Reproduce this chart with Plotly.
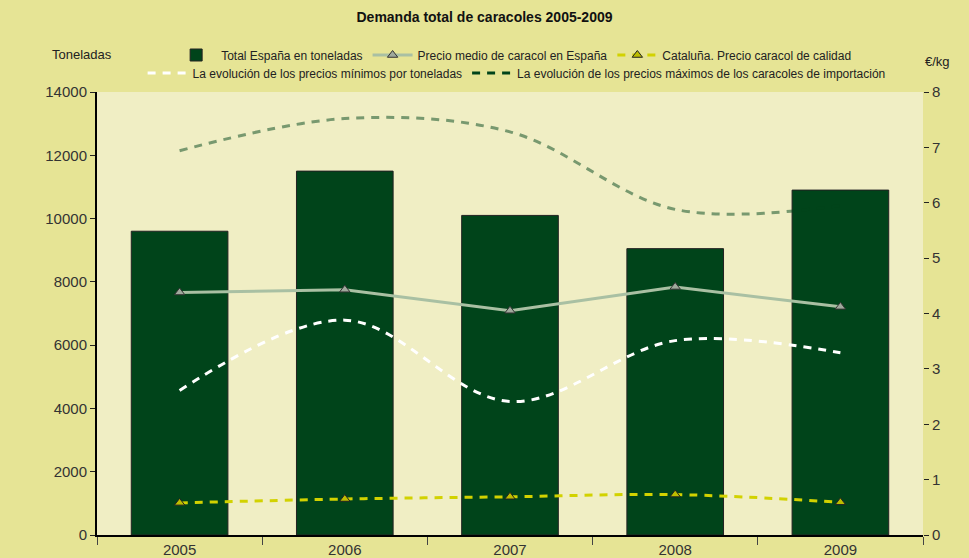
import plotly.graph_objects as go

years = ["2005", "2006", "2007", "2008", "2009"]
total_espana = [9600, 11500, 10100, 9050, 10900]
precio_medio = [4.38, 4.43, 4.05, 4.48, 4.12]
cataluna = [0.58, 0.65, 0.69, 0.73, 0.59]
precios_minimos = [2.61, 3.88, 2.41, 3.51, 3.29]
precios_maximos = [6.94, 7.52, 7.28, 5.88, 5.95]

title = "Demanda total de caracoles 2005-2009"
y_left_title = "Toneladas"
y_right_title = "€/kg"

FONT = "Liberation Sans, Arial, sans-serif"
DARK_GREEN = "#00441a"

fig = go.Figure()

fig.add_trace(go.Bar(
    x=years, y=total_espana, name="Total España en toneladas",
    marker=dict(color=DARK_GREEN, line=dict(color="#222", width=1)),
    width=0.585, legend="legend", yaxis="y",
))
fig.add_trace(go.Scatter(
    x=years, y=precio_medio, name="Precio medio de caracol en España",
    mode="lines+markers", yaxis="y2", legend="legend",
    line=dict(color="#a9c0a3", width=3),
    marker=dict(symbol="triangle-up", size=9, color="#9fa99c",
                line=dict(color="#333", width=1)),
))
fig.add_trace(go.Scatter(
    x=years, y=cataluna, name="Cataluña. Precio caracol de calidad",
    mode="lines+markers", yaxis="y2", legend="legend",
    line=dict(color="#d2d200", width=3, dash="8px,7px", shape="spline"),
    marker=dict(symbol="triangle-up", size=9, color="#bdbd00",
                line=dict(color="#222", width=1)),
))
fig.add_trace(go.Scatter(
    x=years, y=precios_minimos,
    name="La evolución de los precios mínimos por toneladas",
    mode="lines", yaxis="y2", legend="legend2",
    line=dict(color="white", width=3, dash="8px,7px", shape="spline"),
))
fig.add_trace(go.Scatter(
    x=years, y=precios_maximos,
    name="La evolución de los precios máximos de los caracoles de importación",
    mode="lines", yaxis="y2", showlegend=False,
    line=dict(color="rgba(0,68,26,0.5)", width=3, dash="8px,7px", shape="spline"),
))
# legend-only entry for the maximum prices line (legend swatch is solid dark green)
fig.add_trace(go.Scatter(
    x=[None], y=[None],
    name="La evolución de los precios máximos de los caracoles de importación",
    mode="lines", yaxis="y2", legend="legend2",
    line=dict(color=DARK_GREEN, width=3, dash="8px,7px"),
))

fig.update_layout(
    width=969, height=558,
    margin=dict(l=97, r=46, t=92, b=23, autoexpand=False),
    paper_bgcolor="#e6e495",
    plot_bgcolor="#f0eec4",
    font=dict(family=FONT, color="#333"),
    title=dict(text="<b>" + title + "</b>", x=0.5, xanchor="center",
               y=1 - 17 / 558, yanchor="middle",
               font=dict(size=14, color="#111", family=FONT)),
    bargap=0.4,
    xaxis=dict(
        type="category", showline=True, linecolor="black", linewidth=2,
        ticks="outside", tickson="boundaries", ticklen=8, tickcolor="#444",
        tickfont=dict(size=15, color="#333"), showgrid=False, zeroline=False,
        automargin=False,
    ),
    yaxis=dict(
        range=[0, 14000], dtick=2000, tickformat="d", showline=True,
        linecolor="black", linewidth=2, ticks="outside", ticklen=5,
        tickcolor="#222", tickfont=dict(size=15, color="#333"),
        showgrid=False, zeroline=False, automargin=False,
    ),
    yaxis2=dict(
        range=[0, 8], dtick=1, overlaying="y", side="right", showline=False,
        ticks="outside", ticklen=5, tickcolor="#222",
        tickfont=dict(size=15, color="#333"), showgrid=False, zeroline=False,
        automargin=False,
    ),
    legend=dict(
        orientation="h", x=0.505, xanchor="center", y=(535 - 55) / 443,
        yanchor="middle", bgcolor="rgba(0,0,0,0)",
        font=dict(size=12, color="#222", family=FONT),
        itemwidth=40, tracegroupgap=0,
    ),
    legend2=dict(
        orientation="h", x=0.508, xanchor="center", y=(535 - 73) / 443,
        yanchor="middle", bgcolor="rgba(0,0,0,0)",
        font=dict(size=12, color="#222", family=FONT),
        itemwidth=40,
    ),
    annotations=[
        dict(text=y_left_title, xref="paper", yref="paper",
             x=(82 - 97) / 826, y=(535 - 55) / 443, showarrow=False,
             xanchor="center", yanchor="middle",
             font=dict(size=13, color="#222", family=FONT)),
        dict(text=y_right_title, xref="paper", yref="paper",
             x=(937 - 97) / 826, y=(535 - 62) / 443, showarrow=False,
             xanchor="center", yanchor="middle",
             font=dict(size=13, color="#222", family=FONT)),
    ],
)

fig.write_html(
    "out.html",
    config={"displayModeBar": False},
    post_script="document.body.style.margin='0';document.body.style.padding='0';",
)
